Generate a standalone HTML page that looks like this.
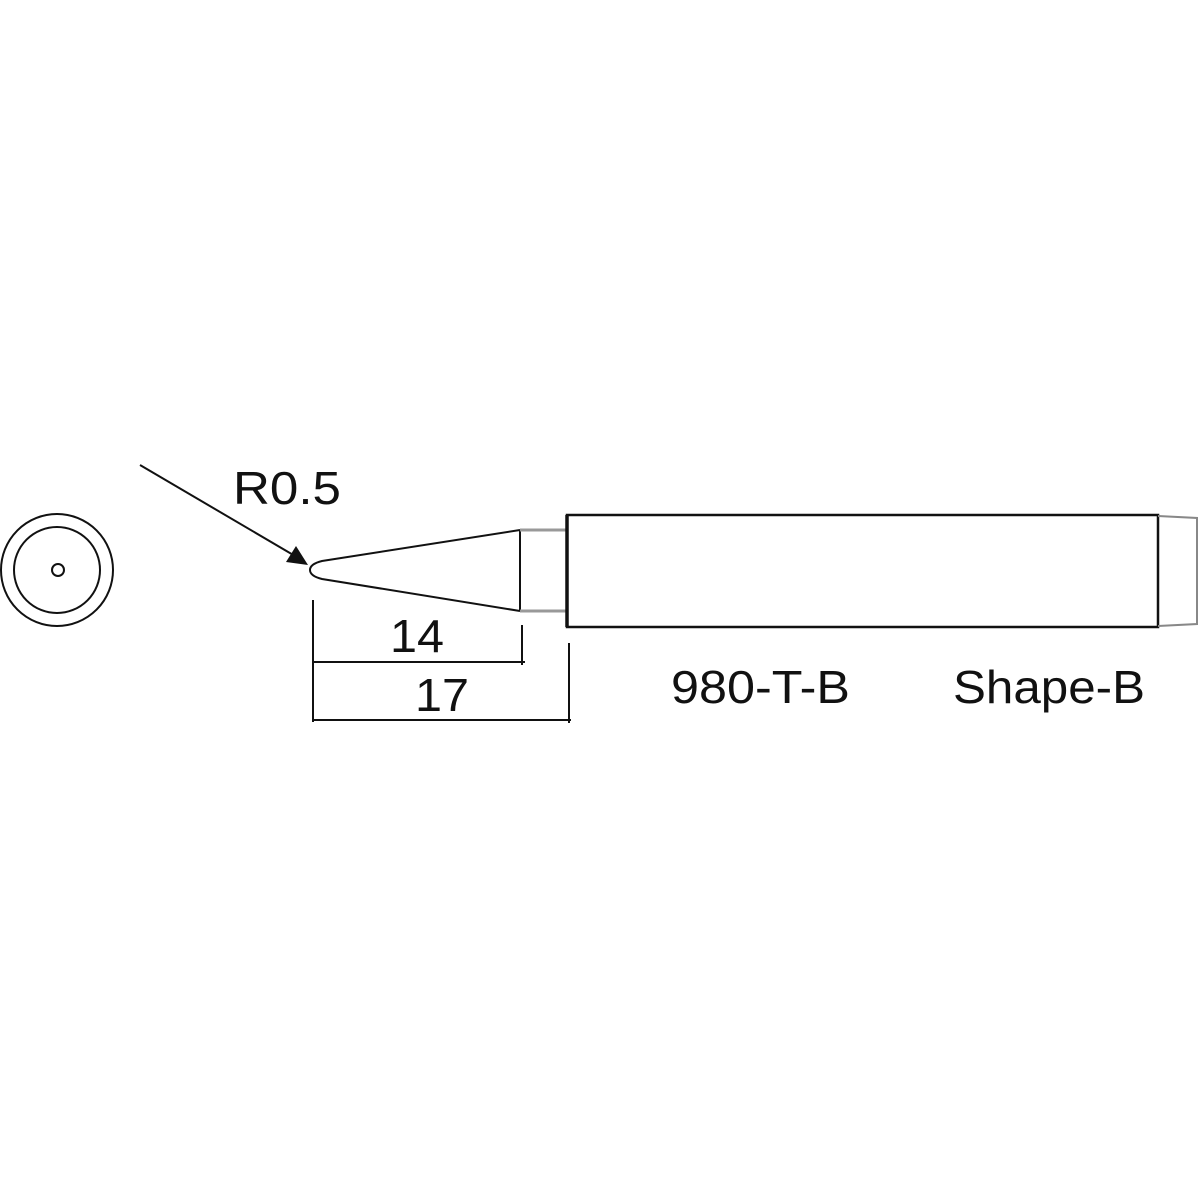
<!DOCTYPE html>
<html><head><style>html,body{margin:0;padding:0;background:#fff;}svg{display:block}</style></head>
<body>
<svg width="1200" height="1200" viewBox="0 0 1200 1200" xmlns="http://www.w3.org/2000/svg">
<rect width="1200" height="1200" fill="#fff"/>
<g fill="none" stroke="#111" stroke-width="2">
<circle cx="57" cy="570" r="56"/>
<circle cx="57" cy="570" r="43"/>
<circle cx="58" cy="570" r="6"/>
<path d="M520,530 L322,561 Q310,564 310,570 Q310,576 322,579 L520,611"/>
<line x1="520" y1="530" x2="520" y2="611"/>
<line x1="520" y1="530" x2="567" y2="530" stroke="#999" stroke-width="3"/>
<line x1="520" y1="611" x2="567" y2="611" stroke="#999" stroke-width="3"/>
<rect x="567" y="515" width="591" height="112" stroke-width="2.5"/>
<line x1="567" y1="515" x2="567" y2="627" stroke-width="3.5"/>
<path d="M1158,516 L1197,518 L1197,624 L1158,626" stroke="#888"/>
<line x1="313" y1="600" x2="313" y2="722"/>
<line x1="522" y1="625" x2="522" y2="665"/>
<line x1="569" y1="643" x2="569" y2="723"/>
<line x1="313" y1="662" x2="525" y2="662"/>
<line x1="313" y1="720" x2="571" y2="720"/>
<line x1="140" y1="465" x2="295" y2="556"/>
</g>
<polygon points="308,565 286,562 296,546" fill="#111"/>
<g font-family="Liberation Sans, sans-serif" font-size="46" fill="#111">
<text x="233" y="504" textLength="108" lengthAdjust="spacingAndGlyphs">R0.5</text>
<text x="390" y="652" textLength="54" lengthAdjust="spacingAndGlyphs">14</text>
<text x="415" y="711" textLength="54" lengthAdjust="spacingAndGlyphs">17</text>
<text x="671" y="703" textLength="179" lengthAdjust="spacingAndGlyphs">980-T-B</text>
<text x="953" y="703" textLength="192" lengthAdjust="spacingAndGlyphs">Shape-B</text>
</g>
</svg>
</body></html>
